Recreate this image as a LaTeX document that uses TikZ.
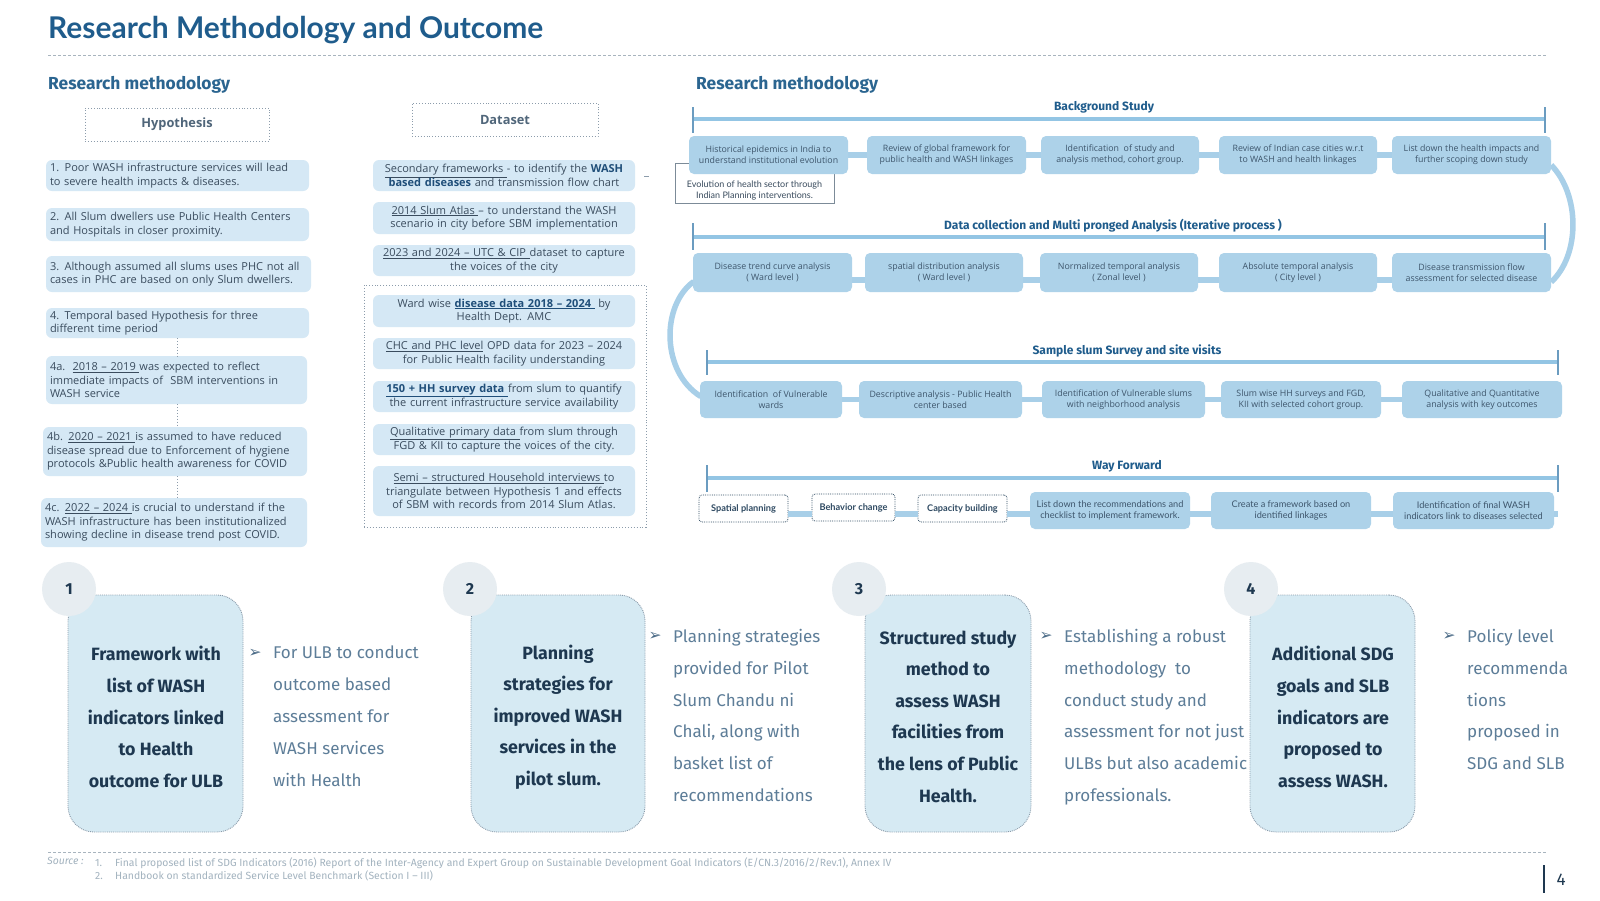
\documentclass[tikz,border=0pt]{standalone}
\usepackage{fontspec}
\usepackage{graphicx}
\setmainfont{Open Sans}
\newfontfamily\fira{Fira Sans}
\newfontfamily\lato{Lato}
\newfontfamily\dejavu{DejaVu Sans}
\usetikzlibrary{calc}
\pgfdeclarelayer{base}
\pgfdeclarelayer{bg}
\pgfsetlayers{base,bg,main}
\definecolor{titleblue}{HTML}{1F5C8C}
\definecolor{secblue}{HTML}{2B6590}
\definecolor{hypfill}{HTML}{D5E8F5}
\definecolor{bodytxt}{HTML}{3A4C5E}
\definecolor{dsbold}{HTML}{1F4E79}
\definecolor{hdrgray}{HTML}{50667A}
\definecolor{dotgray}{HTML}{8C9CAB}
\definecolor{rfill}{HTML}{ADD2E9}
\definecolor{rtxt}{HTML}{3E566C}
\definecolor{connblue}{HTML}{A8CFE8}
\definecolor{linblue}{HTML}{93C5E4}
\definecolor{tickblue}{HTML}{6B9CC0}
\definecolor{evoborder}{HTML}{7C8B98}
\definecolor{wfbold}{HTML}{2F4A62}
\definecolor{ofill}{HTML}{D6EAF3}
\definecolor{navy}{HTML}{1E3850}
\definecolor{bullettxt}{HTML}{5D7D98}
\definecolor{arrowcol}{HTML}{4A6A86}
\definecolor{circfill}{HTML}{E7EDF1}
\definecolor{srcgray}{HTML}{A3B3BF}
\definecolor{rulegray}{HTML}{A8B4BE}
\newcommand\dsb[1]{\textcolor{dsbold}{\bfseries #1}}
\begin{document}
\begin{tikzpicture}[x=1pt,y=-1pt,
  hyp/.style={fill=hypfill, rounded corners=6pt, text=bodytxt, font=\fontsize{11}{13.5}\selectfont, align=left, text width=255pt, inner xsep=4pt, inner ysep=0pt},
  ds/.style={fill=hypfill, rounded corners=6pt, text=bodytxt, font=\fontsize{11}{13.5}\selectfont, align=center, text width=258pt, inner xsep=2pt, inner ysep=0pt, minimum width=262pt},
  hdr/.style={draw=dotgray, dotted, line width=0.9pt, text=hdrgray, font=\bfseries\fontsize{12.8}{14}\selectfont, inner sep=0},
  rbox/.style={fill=rfill, rounded corners=5pt, minimum height=38pt, align=center, text=rtxt, font=\fontsize{8.8}{10.9}\selectfont, inner sep=0},
  lbox/.style={rbox, font=\lato\fontsize{9.2}{11}\selectfont},
  wfdot/.style={draw=wfbold, densely dotted, line width=0.8pt, fill=white, rounded corners=3pt, minimum height=27pt, text=wfbold, font=\lato\bfseries\fontsize{9.2}{10}\selectfont, inner sep=0},
  conn/.style={draw=connblue, line width=5.5pt},
  hline/.style={draw=linblue, line width=3.5pt},
  tick/.style={draw=tickblue, line width=1.1pt},
  rhead/.style={text=titleblue, font=\fira\bfseries\fontsize{12}{14}\selectfont, inner sep=0},
  obox/.style={fill=ofill, draw=dotgray, densely dotted, line width=0.9pt, rounded corners=26pt, minimum height=237pt, inner sep=0},
  otext/.style={align=center, text=navy, font=\fira\bfseries\fontsize{17.8}{31.6}\selectfont, inner sep=0},
  btext/.style={align=left, text=bullettxt, font=\fira\fontsize{17}{31.8}\selectfont, inner sep=0, anchor=north west},
  barrow/.style={text=arrowcol, font=\dejavu\fontsize{15.5}{16}\selectfont, inner sep=0},
  circ/.style={circle, fill=circfill, minimum size=54pt, inner sep=0, text=navy, font=\fira\bfseries\fontsize{16}{18}\selectfont},
  dotc/.style={draw=dotgray, dotted, line width=0.9pt},
  rule/.style={draw=rulegray, line width=0.6pt, dash pattern=on 3pt off 2pt},
  src/.style={text=srcgray, font=\fira\fontsize{10.4}{12}\selectfont, inner sep=0, anchor=base west},
]
\begin{pgfonlayer}{base}
\fill[white] (0,0) rectangle (1600,900);
\end{pgfonlayer}
\useasboundingbox (0,0) rectangle (1600,900);

% ---------- title ----------
\node[anchor=west, inner sep=0, text=titleblue] (title) at (48,30.5) {\resizebox{495pt}{!}{\lato\bfseries Research Methodology and Outcome}};
\coordinate (t1) at (48,55); \coordinate (t2) at (1546,55);
\draw[rule] (t1) -- (t2);

\node[anchor=west, inner sep=0, text=secblue] (rmL) at (48,84.5) {\resizebox{182pt}{!}{\fira\bfseries Research methodology}};
\node[anchor=west, inner sep=0, text=secblue] (rmR) at (696,84.5) {\resizebox{182pt}{!}{\fira\bfseries Research methodology}};

% ---------- hypothesis ----------
\node[hdr, minimum width=184pt, minimum height=33pt] (hyphdr) at (177,124.5) {Hypothesis};
\node[hyp, minimum width=263pt, minimum height=31pt] (h1) at (177.5,175.5) {1. Poor WASH infrastructure services will lead\\to severe health impacts \& diseases.};
\node[hyp, minimum width=263pt, minimum height=33pt] (h2) at (177.5,224.5) {2. All Slum dwellers use Public Health Centers\\and Hospitals in closer proximity.};
\node[hyp, minimum width=265pt, minimum height=36pt, text width=257pt] (h3) at (178.5,274) {3. Although assumed all slums uses PHC not all\\cases in PHC are based on only Slum dwellers.};
\node[hyp, minimum width=263pt, minimum height=30pt] (h4) at (177.5,323) {4. Temporal based Hypothesis for three\\different time period};
\node[hyp, minimum width=261pt, minimum height=48pt, text width=253pt] (h4a) at (176.5,380) {4a.\ \ \underline{2018 – 2019\ }was expected to reflect\\immediate impacts of\ \ SBM interventions in\\WASH service};
\node[hyp, minimum width=264pt, minimum height=49pt, text width=256pt] (h4b) at (175,451.5) {4b. \underline{2020 – 2021\ }is assumed to have reduced\\disease spread due to Enforcement of hygiene\\protocols \&Public health awareness for COVID};
\node[hyp, minimum width=266pt, minimum height=49pt, text width=258pt] (h4c) at (174,522.5) {4c. \underline{2022 – 2024\ }is crucial to understand if the\\WASH infrastructure has been institutionalized\\showing decline in disease trend post COVID.};
\draw[dotc] (h4.south) -- (h4.south |- h4a.north);
\draw[dotc] (h4.south |- h4a.south) -- (h4.south |- h4b.north);
\draw[dotc] (h4.south |- h4b.south) -- (h4.south |- h4c.north);

% ---------- dataset ----------
\node[hdr, minimum width=186pt, minimum height=33pt] (dshdr) at (505,119.5) {Dataset};
\node[ds, minimum height=31pt] (d1) at (504,175.5) {\underline{Secondary frameworks\ }- to identify the \dsb{WASH}\\\dsb{based diseases} and transmission flow chart};
\coordinate (dash1) at (644,176); \coordinate (dash2) at (649,176);
\draw[draw=dotgray, line width=0.7pt] (dash1) -- (dash2);
\node[ds, minimum height=32pt] (d2) at (504,218) {\underline{2014 Slum Atlas\ }– to understand the WASH\\scenario in city before SBM implementation};
\node[ds, minimum height=31pt] (d3) at (504,260.5) {\underline{2023 and 2024 – UTC \& CIP\ }dataset to capture\\the voices of the city};
\node[draw=dotgray, dotted, line width=0.9pt, minimum width=282pt, minimum height=242pt, inner sep=0] (dcont) at (505,406) {};
\node[ds, minimum height=32pt] (d4) at (504,311) {Ward wise \dsb{\underline{disease data 2018 – 2024\ }} by\\Health Dept. AMC};
\node[ds, minimum height=31pt] (d5) at (504,353.5) {\underline{CHC and PHC level} OPD data for 2023 – 2024\\for Public Health facility understanding};
\node[ds, minimum height=31pt] (d6) at (504,396.5) {\dsb{\underline{150 + HH survey data\ }}from slum to quantify\\the current infrastructure service availability};
\node[ds, minimum height=31pt] (d7) at (504,439.5) {\underline{Qualitative primary data\ }from slum through\\FGD \& KII to capture the voices of the city.};
\node[ds, minimum height=50pt] (d8) at (504,491) {\underline{Semi – structured Household interviews\ }to\\triangulate between Hypothesis 1 and effects\\of SBM with records from 2014 Slum Atlas.};

% ---------- right: background study ----------
\node[rhead] (bshdr) at (1104,107) {Background Study};
\coordinate (bsL) at (693,119); \coordinate (bsR) at (1545,119);
\draw[hline] (bsL) -- (bsR);
\draw[tick] ($(bsL)+(0,-12)$) -- ($(bsL)+(0,14)$);
\draw[tick] ($(bsR)+(0,-12)$) -- ($(bsR)+(0,14)$);

\node[draw=evoborder, fill=white, line width=0.7pt, minimum width=159pt, minimum height=40pt, inner sep=0] (evo) at (754.5,183) {};
\node[align=center, text=bodytxt, font=\lato\fontsize{9}{11}\selectfont, inner sep=0] (evot) at (754.5,190.5) {Evolution of health sector through\\Indian Planning interventions.};

\node[rbox, minimum width=159pt] (r1a) at (768.5,155) {Historical epidemics in India to\\understand institutional evolution};
\node[rbox, minimum width=159pt] (r1b) at (946.5,155) {Review of global framework for\\public health and WASH linkages};
\node[rbox, minimum width=158pt] (r1c) at (1120,155) {Identification\ \ of study and\\analysis method, cohort group.};
\node[rbox, minimum width=158pt] (r1d) at (1298,155) {Review of Indian case cities w.r.t\\to WASH and health linkages};
\node[rbox, minimum width=159pt] (r1e) at (1471.5,155) {List down the health impacts and\\further scoping down study};
\foreach \a/\b in {r1a/r1b, r1b/r1c, r1c/r1d, r1d/r1e} \draw[conn] (\a.east) -- (\b.west);

% ---------- right: data collection ----------
\node[rhead] (dchdr) at (1113,225.5) {Data collection and Multi pronged Analysis (Iterative process )};
\coordinate (dcL) at (693,237); \coordinate (dcR) at (1545,237);
\draw[hline] (dcL) -- (dcR);
\draw[tick] ($(dcL)+(0,-14)$) -- ($(dcL)+(0,13)$);
\draw[tick] ($(dcR)+(0,-14)$) -- ($(dcR)+(0,13)$);

\node[rbox, minimum width=159pt, minimum height=39pt] (r2a) at (772.5,272.5) {Disease trend curve analysis\\( Ward level )};
\node[rbox, minimum width=158pt, minimum height=39pt] (r2b) at (944,272.5) {spatial distribution analysis\\( Ward level )};
\node[rbox, minimum width=158pt, minimum height=39pt] (r2c) at (1119,272.5) {Normalized temporal analysis\\( Zonal level )};
\node[rbox, minimum width=158pt, minimum height=39pt] (r2d) at (1298,272.5) {Absolute temporal analysis\\( City level )};
\node[rbox, minimum width=159pt, minimum height=39pt] (r2e) at (1471.5,272.5) {Disease transmission flow\\assessment for selected disease};
\coordinate (dcy) at (0,280);
\foreach \a/\b in {r2a/r2b, r2b/r2c, r2c/r2d, r2d/r2e} \draw[conn] (\a.east |- dcy) -- (\b.west |- dcy);

% ---------- right: sample slum survey ----------
\node[rhead] (sshdr) at (1127,350.5) {Sample slum Survey and site visits};
\coordinate (ssL) at (707,362); \coordinate (ssR) at (1558,362);
\draw[hline] (ssL) -- (ssR);
\draw[tick] ($(ssL)+(0,-12)$) -- ($(ssL)+(0,13)$);
\draw[tick] ($(ssR)+(0,-12)$) -- ($(ssR)+(0,13)$);

\node[rbox, minimum width=142pt, minimum height=37pt] (r3a) at (771,399.5) {Identification\ \ of Vulnerable\\wards};
\node[rbox, minimum width=163pt, minimum height=37pt] (r3b) at (940.5,399.5) {Descriptive analysis - Public Health\\center based};
\node[rbox, minimum width=163pt, minimum height=37pt] (r3c) at (1123.5,399.5) {Identification of Vulnerable slums\\with neighborhood analysis};
\node[rbox, minimum width=160pt, minimum height=37pt] (r3d) at (1301,399.5) {Slum wise HH surveys and FGD,\\KII with selected cohort group.};
\node[rbox, minimum width=160pt, minimum height=37pt] (r3e) at (1482,399.5) {Qualitative and Quantitative\\analysis with key outcomes};
\foreach \a/\b in {r3a/r3b, r3b/r3c, r3c/r3d, r3d/r3e} \draw[conn] (\a.east) -- (\b.west);

% ---------- right: way forward ----------
\node[rhead] (wfhdr) at (1127,466.5) {Way Forward};
\coordinate (wfL) at (707,478); \coordinate (wfR) at (1558,478);
\draw[hline] (wfL) -- (wfR);
\draw[tick] ($(wfL)+(0,-13)$) -- ($(wfL)+(0,14)$);
\draw[tick] ($(wfR)+(0,-13)$) -- ($(wfR)+(0,14)$);

\coordinate (wfy) at (0,514);
\coordinate (wfend) at (1558,514);
\node[wfdot, minimum width=89pt] (w1) at (743.5,508.5) {Spatial planning};
\node[wfdot, minimum width=83pt] (w2) at (853.5,507.5) {Behavior change};
\node[wfdot, minimum width=89pt] (w3) at (962.5,508.5) {Capacity building};
\node[lbox, minimum width=160pt, minimum height=37pt] (w4) at (1110,510.5) {List down the recommendations and\\checklist to implement framework.};
\node[lbox, minimum width=160pt, minimum height=37pt] (w5) at (1291,510.5) {Create a framework based on\\identified linkages};
\node[lbox, minimum width=161pt, minimum height=37pt] (w6) at (1473.5,510.5) {Identification of final WASH\\indicators link to diseases selected};
\foreach \a/\b in {w1/w2, w2/w3, w3/w4, w4/w5, w5/w6} \draw[conn] (\a.east |- wfy) -- (\b.west |- wfy);
\draw[conn] (w6.east |- wfy) -- (wfend);

% ---------- loop arcs ----------
\begin{pgfonlayer}{bg}
\draw[conn] ([yshift=-10pt]r1e.east) .. controls +(29,30) and +(29,-27) .. ([yshift=-9.5pt]r2e.east);
\draw[conn] ([xshift=1pt,yshift=-9pt]r2a.west) .. controls (661,305) and (661,372) .. ([xshift=1pt,yshift=3pt]r3a.west);
\end{pgfonlayer}

% ---------- bottom outcomes ----------
\node[obox, minimum width=175pt] (o1) at (155.5,713.5) {};
\node[obox, minimum width=174pt] (o2) at (558,713.5) {};
\node[obox, minimum width=166pt] (o3) at (948,713.5) {};
\node[obox, minimum width=165pt] (o4) at (1332.5,713.5) {};
\node[circ] (c1) at (69,589) {1};
\node[circ] (c2) at (470,589) {2};
\node[circ] (c3) at (859,589) {3};
\node[circ] (c4) at (1251,589) {4};

\node[otext] (o1t) at (156,717) {Framework with\\list of WASH\\indicators linked\\to Health\\outcome for ULB};
\node[otext] (o2t) at (558,717) {Planning\\strategies for\\improved WASH\\services in the\\pilot slum.};
\node[otext] (o3t) at (948,716.5) {Structured study\\method to\\assess WASH\\facilities from\\the lens of Public\\Health.};
\node[otext] (o4t) at (1333,717) {Additional SDG\\goals and SLB\\indicators are\\proposed to\\assess WASH.};

\node[barrow] (a1) at (255,653) {➢};
\node[btext] (bt1) at (273,646) {For ULB to conduct\\outcome based\\assessment for\\WASH services\\with Health};
\node[barrow] (a2) at (655,636) {➢};
\node[btext] (bt2) at (673,629) {Planning strategies\\provided for Pilot\\Slum Chandu ni\\Chali, along with\\basket list of\\recommendations};
\node[barrow] (a3) at (1046,636) {➢};
\node[btext] (bt3) at (1064,629) {Establishing a robust\\methodology\ \ to\\conduct study and\\assessment for not just\\ULBs but also academic\\professionals.};
\node[barrow] (a4) at (1449,636) {➢};
\node[btext] (bt4) at (1467,629) {Policy level\\recommenda\\tions\\proposed in\\SDG and SLB};

% ---------- footer ----------
\coordinate (f1) at (48,852); \coordinate (f2) at (1546,852);
\draw[rule] (f1) -- (f2);
\node[src, font=\fira\itshape\fontsize{10.4}{12}\selectfont] (srcl) at (47,864) {Source :};
\node[src] (s1n) at (95,866) {1.};
\node[src] (s1) at (115,866) {Final proposed list of SDG Indicators (2016) Report of the Inter-Agency and Expert Group on Sustainable Development Goal Indicators (E/CN.3/2016/2/Rev.1), Annex IV};
\node[src] (s2n) at (95,879) {2.};
\node[src] (s2) at (115,879) {Handbook on standardized Service Level Benchmark (Section I – III)};

\coordinate (pg1) at (1544,865); \coordinate (pg2) at (1544,893);
\draw[draw=navy, line width=1.8pt] (pg1) -- (pg2);
\node[inner sep=0, text=navy, font=\fira\fontsize{17}{20}\selectfont] (pgn) at (1561,880) {4};
\end{tikzpicture}
\end{document}
